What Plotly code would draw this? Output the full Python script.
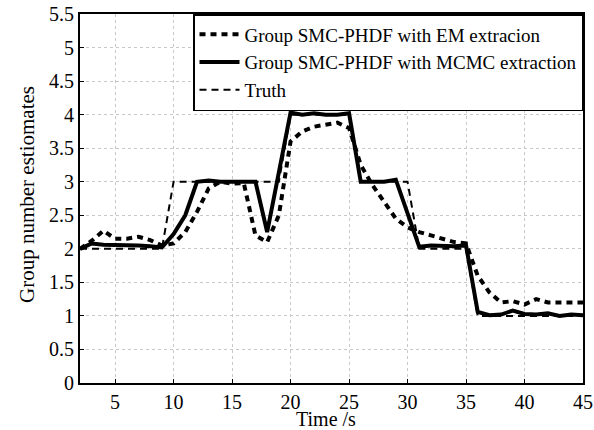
import plotly.graph_objects as go

time = list(range(2, 46))
truth_t = [2, 9, 10, 19, 20, 25, 26, 30, 31, 35, 36, 45]
truth_v = [2, 2, 3, 3, 4, 4, 3, 3, 2, 2, 1, 1]

em = [2.0, 2.12, 2.27, 2.15, 2.15, 2.18, 2.13, 2.05, 2.08, 2.25, 2.55, 2.9, 3.0, 2.97,
      2.98, 2.2, 2.1, 2.5, 3.6, 3.75, 3.82, 3.85, 3.88, 3.8, 3.25, 2.95, 2.7, 2.45,
      2.32, 2.25, 2.2, 2.15, 2.1, 2.08, 1.6, 1.35, 1.2, 1.22, 1.17, 1.25, 1.2, 1.2, 1.2, 1.2]
mcmc = [2.0, 2.08, 2.06, 2.06, 2.06, 2.05, 2.04, 2.02, 2.22, 2.5, 3.0, 3.02, 3.0, 3.0,
        3.0, 3.0, 2.25, 3.15, 4.03, 4.0, 4.02, 4.0, 4.0, 4.02, 3.0, 3.0, 3.0, 3.03,
        2.52, 2.03, 2.05, 2.04, 2.04, 2.05, 1.06, 1.01, 1.02, 1.08, 1.03, 1.02, 1.04, 1.0, 1.02, 1.01]

x_ticks = [5, 10, 15, 20, 25, 30, 35, 40, 45]
y_ticks = [0, 0.5, 1, 1.5, 2, 2.5, 3, 3.5, 4, 4.5, 5, 5.5]
y_labels = ["0", "0.5", "1", "1.5", "2", "2.5", "3", "3.5", "4", "4.5", "5", "5.5"]

font = "Liberation Serif"

fig = go.Figure()
fig.add_trace(go.Scatter(x=time, y=em, mode="lines", name="Group SMC-PHDF with EM extracion",
                         line=dict(color="black", width=4, dash="6px,5px")))
fig.add_trace(go.Scatter(x=time, y=mcmc, mode="lines", name="Group SMC-PHDF with MCMC extraction",
                         line=dict(color="black", width=4)))
fig.add_trace(go.Scatter(x=truth_t, y=truth_v, mode="lines", name="Truth",
                         line=dict(color="black", width=2, dash="7px,5px")))

axis_common = dict(showline=True, linecolor="black", linewidth=2, mirror=True,
                   ticks="inside", ticklen=4, tickcolor="black",
                   showgrid=True, gridcolor="#c8c8c8", griddash="dot", gridwidth=1,
                   zeroline=False, automargin=False,
                   tickfont=dict(family=font, size=20, color="black"))

fig.update_xaxes(range=[2, 45], tickvals=x_ticks, ticktext=[str(v) for v in x_ticks],
                 **axis_common)
fig.update_yaxes(range=[0, 5.5], tickvals=y_ticks, ticktext=y_labels,
                 **axis_common)

fig.add_annotation(text="Time /s", xref="paper", yref="paper", x=0.489, y=-0.097,
                   xanchor="center", yanchor="middle", showarrow=False,
                   font=dict(family=font, size=20, color="black"))
fig.add_annotation(text="Group number estiomates", xref="paper", yref="paper", x=-0.105, y=0.51,
                   xanchor="center", yanchor="middle", showarrow=False, textangle=-90,
                   font=dict(family=font, size=21, color="black"))

fig.update_layout(
    width=594, height=430,
    margin=dict(l=80, r=11, t=14, b=47),
    plot_bgcolor="white", paper_bgcolor="white",
    font=dict(family=font, size=19, color="black"),
    legend=dict(x=1, y=1, xanchor="right", yanchor="top", bordercolor="black", borderwidth=1.5,
                bgcolor="white", font=dict(family=font, size=19, color="black"),
                tracegroupgap=0, itemwidth=40),
    showlegend=True,
)

fig.write_html("out.html")
